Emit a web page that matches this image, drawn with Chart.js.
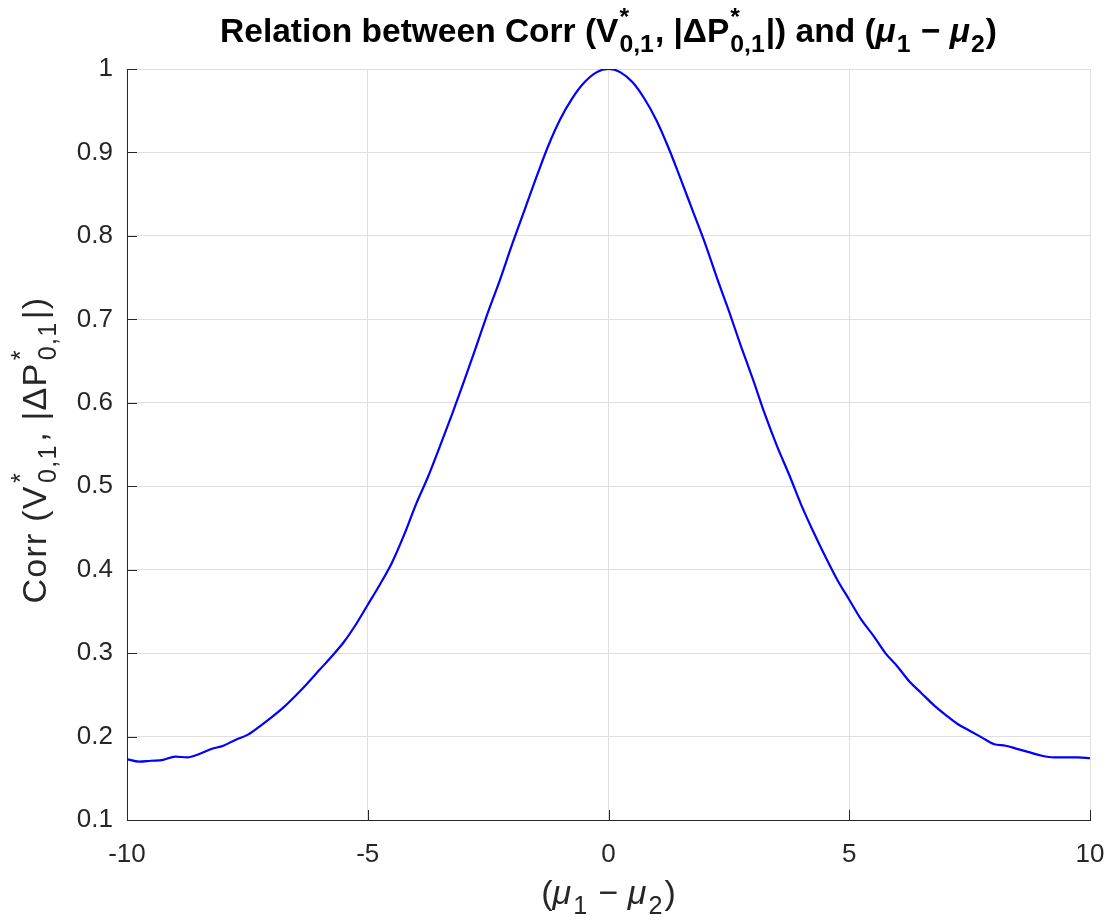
<!DOCTYPE html>
<html>
<head>
<meta charset="utf-8">
<script src="https://cdn.jsdelivr.net/npm/chart.js@4.4.1/dist/chart.umd.min.js"></script>
<style>
  html, body { margin: 0; padding: 0; background: #ffffff; }
  #wrap { width: 1110px; height: 921px; position: relative; }
</style>
</head>
<body>
<div id="wrap"><canvas id="c" width="1110" height="921"></canvas></div>
<script>
// ---- data ----
const muDiff = [
  -10, -9.75, -9.5, -9.25, -9, -8.75, -8.5, -8.25, -8, -7.75, -7.5, -7.25, -7, -6.75, -6.5, -6.25,
  -6, -5.75, -5.5, -5.25, -5, -4.75, -4.5, -4.25, -4, -3.75, -3.5, -3.25, -3, -2.75, -2.5, -2.25,
  -2, -1.75, -1.5, -1.25, -1, -0.75, -0.5, -0.25, 0,
  0.25, 0.5, 0.75, 1, 1.25, 1.5, 1.75, 2, 2.25, 2.5, 2.75, 3, 3.25, 3.5, 3.75, 4,
  4.25, 4.5, 4.75, 5, 5.25, 5.5, 5.75, 6, 6.25, 6.5, 6.75, 7, 7.25, 7.5, 7.75, 8,
  8.25, 8.5, 8.75, 9, 9.25, 9.5, 9.75, 10
];
const corrValues = [
  0.173, 0.170, 0.171, 0.172, 0.176, 0.175, 0.179, 0.185, 0.189, 0.196, 0.202, 0.212, 0.223, 0.235, 0.249, 0.264,
  0.280, 0.296, 0.313, 0.334, 0.358, 0.382, 0.408, 0.441, 0.478, 0.511, 0.548, 0.586, 0.626, 0.667, 0.709, 0.748,
  0.790, 0.830, 0.870, 0.908, 0.940, 0.965, 0.984, 0.996, 1.000,
  0.996, 0.984, 0.964, 0.938, 0.905, 0.868, 0.830, 0.792, 0.750, 0.710, 0.668, 0.628, 0.586, 0.548, 0.514, 0.478,
  0.446, 0.416, 0.388, 0.364, 0.340, 0.321, 0.300, 0.284, 0.266, 0.252, 0.238, 0.226, 0.215, 0.207, 0.199, 0.191,
  0.189, 0.185, 0.181, 0.177, 0.175, 0.175, 0.175, 0.174
];
const xTickValues = [-10, -5, 0, 5, 10];
const yTickValues = [0.1, 0.2, 0.3, 0.4, 0.5, 0.6, 0.7, 0.8, 0.9, 1];
const yTickLabels = ['0.1', '0.2', '0.3', '0.4', '0.5', '0.6', '0.7', '0.8', '0.9', '1'];

const FONT = '"Liberation Sans", Arial, Helvetica, sans-serif';
const AXIS_COLOR = '#262626';

// rich text helper (sub/superscripts)
function fontStr(size, italic, bold) {
  return (italic ? 'italic ' : '') + (bold ? 'bold ' : '') + size + 'px ' + FONT;
}
function drawRich(ctx, parts, x, y, size, bold, color, ratio, gap, spacing) {
  const small = size * ratio;
  ctx.letterSpacing = (spacing || 0) + 'px';
  const widths = parts.map(p => {
    if (p.k === 'n' || p.k === 'i') { ctx.font = fontStr(size, p.k === 'i', bold); return ctx.measureText(p.t).width; }
    ctx.font = fontStr(small, false, bold);
    if (p.k === 'sub') return ctx.measureText(p.t).width + gap;
    return Math.max(ctx.measureText(p.t).width, ctx.measureText(p.sup).width) + gap;
  });
  const total = widths.reduce((a, b) => a + b, 0);
  let cx = x - total / 2;
  ctx.fillStyle = color;
  ctx.textAlign = 'left';
  ctx.textBaseline = 'alphabetic';
  parts.forEach((p, i) => {
    if (p.k === 'n' || p.k === 'i') {
      ctx.font = fontStr(size, p.k === 'i', bold);
      ctx.fillText(p.t, cx, y);
    } else if (p.k === 'sub') {
      ctx.font = fontStr(small, false, bold);
      ctx.fillText(p.t, cx + gap / 2, y + size * 0.3);
    } else {
      ctx.font = fontStr(small, false, bold);
      ctx.fillText(p.sup, cx + gap / 2, y - size * 0.5);
      ctx.fillText(p.t, cx + gap / 2, y + size * 0.3);
    }
    cx += widths[i];
  });
  ctx.letterSpacing = '0px';
}

const titleParts = [
  { k: 'n', t: 'Relation between Corr (V' }, { k: 'ss', sup: '*', t: '0,1' },
  { k: 'n', t: ', |ΔP' }, { k: 'ss', sup: '*', t: '0,1' },
  { k: 'n', t: '|) and (' }, { k: 'i', t: 'μ' }, { k: 'sub', t: '1' },
  { k: 'n', t: ' − ' }, { k: 'i', t: 'μ' }, { k: 'sub', t: '2' }, { k: 'n', t: ')' }
];
const yLabelParts = [
  { k: 'n', t: 'Corr (V' }, { k: 'ss', sup: '*', t: '0,1' },
  { k: 'n', t: ', |ΔP' }, { k: 'ss', sup: '*', t: '0,1' }, { k: 'n', t: '|)' }
];
const xLabelParts = [
  { k: 'n', t: '(' }, { k: 'i', t: 'μ' }, { k: 'sub', t: '1' },
  { k: 'n', t: ' − ' }, { k: 'i', t: 'μ' }, { k: 'sub', t: '2' }, { k: 'n', t: ')' }
];

const decorPlugin = {
  id: 'decor',
  afterDraw(chart) {
    const ctx = chart.ctx;
    const ca = chart.chartArea;
    const xs = chart.scales.x, ys = chart.scales.y;
    ctx.save();
    // inward tick marks
    ctx.strokeStyle = AXIS_COLOR;
    ctx.lineWidth = 1;
    ctx.beginPath();
    xTickValues.forEach(v => {
      const px = Math.round(xs.getPixelForValue(v)) + 0.5;
      ctx.moveTo(px, ca.bottom); ctx.lineTo(px, ca.bottom - 10);
    });
    yTickValues.forEach(v => {
      const py = Math.round(ys.getPixelForValue(v)) + 0.5;
      ctx.moveTo(ca.left, py); ctx.lineTo(ca.left + 10, py);
    });
    ctx.stroke();
    const cxm = (ca.left + ca.right) / 2;
    // title
    drawRich(ctx, titleParts, cxm, 42, 33.5, true, '#000000', 0.74, 2, 0);
    // x label
    drawRich(ctx, xLabelParts, cxm, 904, 34, false, AXIS_COLOR, 0.74, 4, 0);
    // y label (rotated)
    ctx.translate(46, 450);
    ctx.rotate(-Math.PI / 2);
    drawRich(ctx, yLabelParts, 0, 0, 34, false, AXIS_COLOR, 0.74, 5, 1.2);
    ctx.restore();
  }
};

new Chart(document.getElementById('c'), {
  type: 'line',
  data: {
    datasets: [{
      data: muDiff.map((x, i) => ({ x: x, y: corrValues[i] })),
      borderColor: '#0000ff',
      borderWidth: 2.2,
      pointRadius: 0,
      cubicInterpolationMode: 'monotone',
      fill: false
    }]
  },
  options: {
    responsive: false,
    animation: false,
    events: [],
    layout: { padding: { top: 69, right: 20, left: 0, bottom: 0 } },
    plugins: { legend: { display: false }, title: { display: false }, tooltip: { enabled: false } },
    scales: {
      x: {
        type: 'linear',
        min: -10, max: 10,
        afterFit(s) { s.height = 101; s.paddingLeft = 0; s.paddingRight = 0; },
        afterBuildTicks(s) { s.ticks = xTickValues.map(v => ({ value: v })); },
        grid: { color: '#dfdfdf', lineWidth: 1, drawTicks: false },
        border: { color: AXIS_COLOR, width: 1 },
        ticks: {
          padding: 19,
          color: AXIS_COLOR,
          font: { family: FONT, size: 26 },
          maxRotation: 0,
          callback: v => String(v)
        }
      },
      y: {
        type: 'linear',
        min: 0.1, max: 1,
        afterFit(s) { s.width = 127; s.paddingTop = 0; s.paddingBottom = 0; },
        afterBuildTicks(s) { s.ticks = yTickValues.map(v => ({ value: v })); },
        grid: { color: '#dfdfdf', lineWidth: 1, drawTicks: false },
        border: { color: AXIS_COLOR, width: 1 },
        ticks: {
          padding: 14,
          color: AXIS_COLOR,
          font: { family: FONT, size: 26 },
          callback: (v, i) => yTickLabels[i]
        }
      }
    }
  },
  plugins: [decorPlugin]
});
</script>
</body>
</html>
